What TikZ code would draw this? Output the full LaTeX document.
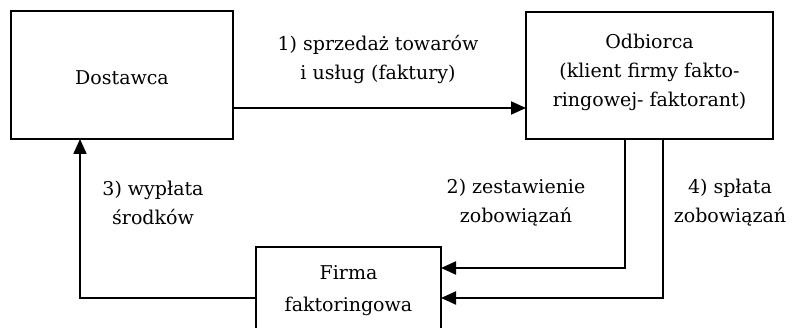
\documentclass[tikz,border=0pt]{standalone}
\usepackage{fontspec}
\setmainfont{DejaVu Serif}
\usetikzlibrary{arrows.meta}
\begin{document}
\begin{tikzpicture}[x=1pt,y=-1pt,
  box/.style={draw,line width=2pt},
  lbl/.style={align=center,font=\fontsize{19}{29}\selectfont,inner sep=0pt},
  flow/.style={line width=2pt,-{Triangle[length=15pt,width=13pt]}}]
\useasboundingbox (0,0) rectangle (796,328);

% parties
\draw[box] (11,11) rectangle (233,139);
\node[lbl] (dost) at (122,78) {Dostawca};
\draw[box] (526,12) rectangle (773,139);
\node[lbl] (odb) at (649.5,72) {Odbiorca\\(klient firmy fakto-\\ringowej- faktorant)};
\draw[box] (256,247) rectangle (441,345);
\node[lbl,font=\fontsize{19}{32}\selectfont] (firma) at (348.5,291) {Firma\\faktoringowa};

% connector end points on the box edges
\coordinate (dR) at (233,108);
\coordinate (dB) at (80,139);
\coordinate (oL) at (526,108);
\coordinate (oB1) at (625,139);
\coordinate (oB2) at (663,139);
\coordinate (fL) at (256,298);
\coordinate (fR1) at (441,268);
\coordinate (fR2) at (441,298);

% flows
\draw[flow] (dR) -- (oL);
\draw[flow] (oB1) |- (fR1);
\draw[flow] (oB2) |- (fR2);
\draw[flow] (fL) -| (dB);

% flow labels
\node[lbl] (l1) at (378,60) {1) sprzedaż towarów\\i usług (faktury)};
\node[lbl] (l2) at (516,203) {2) zestawienie\\zobowiązań};
\node[lbl] (l3) at (153,203) {3) wypłata\\środków};
\node[lbl] (l4) at (730,203) {4) spłata\\zobowiązań};
\end{tikzpicture}
\end{document}
